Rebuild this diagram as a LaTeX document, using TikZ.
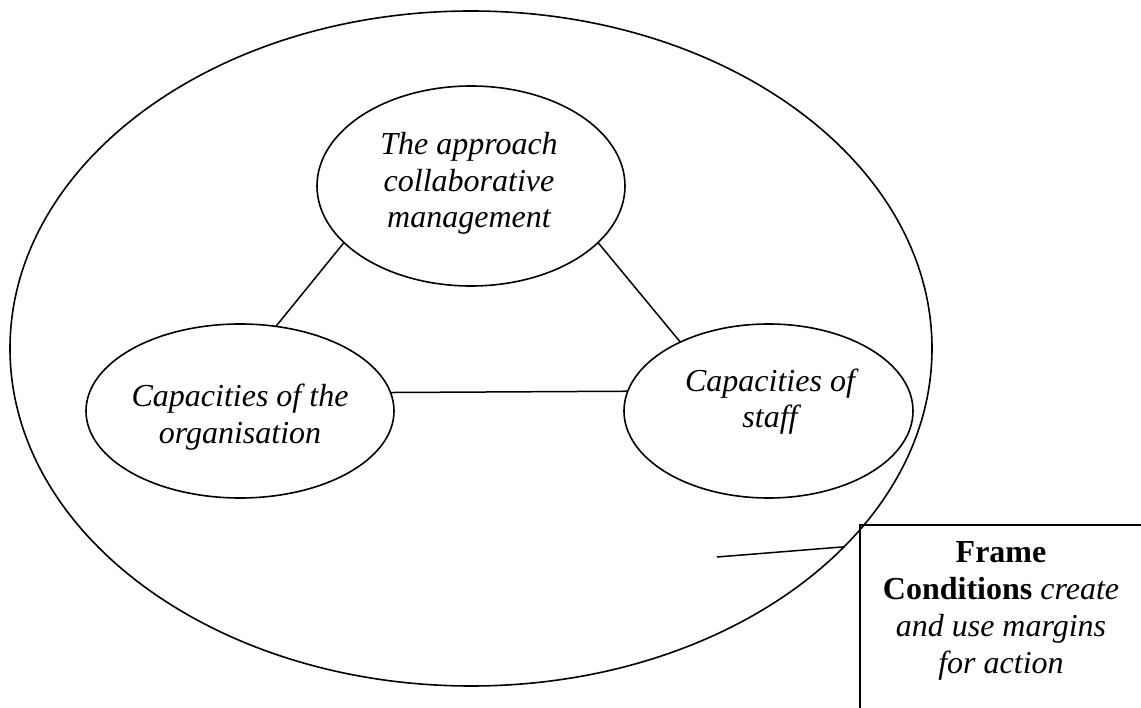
\documentclass[tikz,border=0pt]{standalone}
\usepackage{fontspec}
\setmainfont{Liberation Serif}
\usetikzlibrary{shapes.geometric}
\begin{document}
\begin{tikzpicture}[x=1pt,y=-1pt,
  bubble/.style={ellipse, draw, line width=1.6pt, inner sep=0pt, outer sep=0pt},
  txt/.style={align=center, inner sep=0pt, font=\fontsize{32}{36.5}\selectfont\itshape},
  fctxt/.style={align=center, inner sep=0pt, font=\fontsize{32}{37}\selectfont},
  link/.style={line width=1.5pt},
  fcbox/.style={draw, line width=2pt, inner sep=0pt, outer sep=0pt, minimum width=320, minimum height=220}]
\fill[white] (0,0) rectangle (1141,708);
\path[use as bounding box, clip] (0,0) rectangle (1141,708);
% outer ellipse and the three bubbles
\node[bubble, minimum width=922, minimum height=675] (big) at (471,348.5) {};
\node[bubble, minimum width=308, minimum height=200] (app) at (471,186) {};
\node[bubble, minimum width=308, minimum height=174] (org) at (240,411) {};
\node[bubble, minimum width=289, minimum height=174] (staff) at (768.5,411) {};
% texts
\node[txt] (apptext) at (469,183.5) {The approach\\collaborative\\management};
\node[txt] (orgtext) at (240,417) {Capacities of the\\organisation};
\node[txt] (stafftext) at (770,401.5) {Capacities of\\staff};
% connectors
\draw[link] (app.-156.2) -- (org.67.3);
\draw[link] (app.-24.2) -- (staff.142.3);
\draw[link] (org.7.1) -- (staff.172.5);
% frame conditions box
\node[fcbox, anchor=north west] (fc) at (860,525) {};
\node[fctxt] (fctext) at (1001,611) {\textbf{Frame}\\\textbf{Conditions} \textit{create}\\\textit{and use margins}\\\textit{for action}};
\coordinate (fcstart) at (717,557);
\draw[link] (fcstart) -- (big.-28.3);
\end{tikzpicture}
\end{document}
